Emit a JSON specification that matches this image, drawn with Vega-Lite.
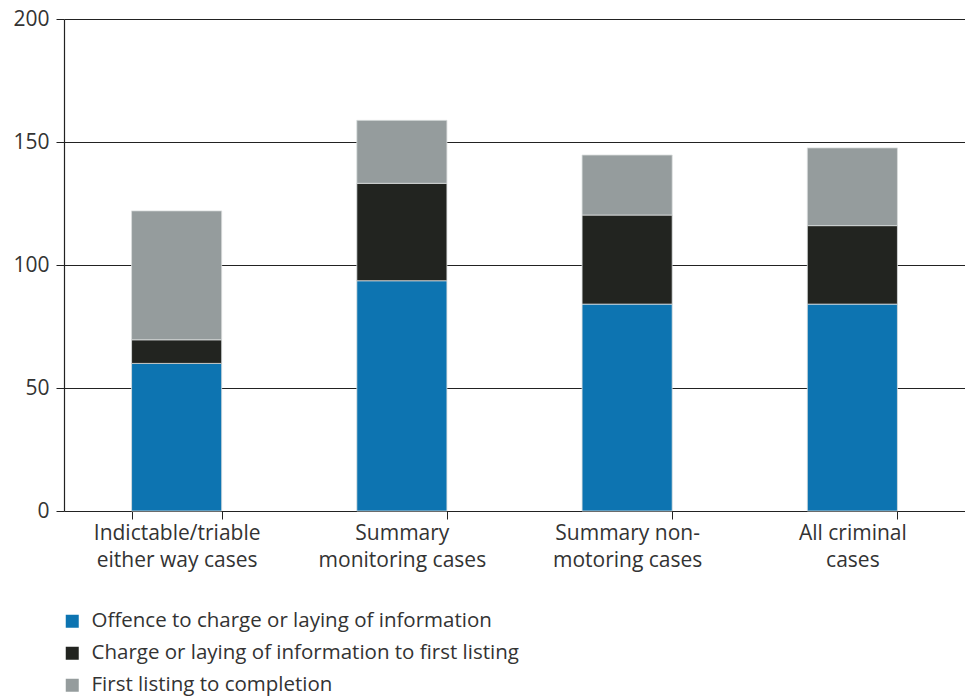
{
  "$schema": "https://vega.github.io/schema/vega-lite/v6.json",
  "width": 901,
  "height": 492,
  "autosize": {"type": "none"},
  "padding": {"left": 64, "top": 19, "right": 0, "bottom": 186},
  "background": "white",
  "config": {
    "font": "Open Sans",
    "view": {"stroke": null},
    "axis": {"labelFont": "Open Sans", "labelColor": "#333333", "labelFontSize": 21, "labelFontWeight": "normal"},
    "legend": {"labelFont": "Open Sans", "labelColor": "#333333"}
  },
  "data": {
    "values": [
      {"category": "Indictable/triable either way cases", "stage": "Offence to charge or laying of information", "seq": 1, "days": 60.0},
      {"category": "Indictable/triable either way cases", "stage": "Charge or laying of information to first listing", "seq": 2, "days": 9.6},
      {"category": "Indictable/triable either way cases", "stage": "First listing to completion", "seq": 3, "days": 52.4},
      {"category": "Summary monitoring cases", "stage": "Offence to charge or laying of information", "seq": 1, "days": 93.6},
      {"category": "Summary monitoring cases", "stage": "Charge or laying of information to first listing", "seq": 2, "days": 39.6},
      {"category": "Summary monitoring cases", "stage": "First listing to completion", "seq": 3, "days": 25.6},
      {"category": "Summary non-motoring cases", "stage": "Offence to charge or laying of information", "seq": 1, "days": 84.1},
      {"category": "Summary non-motoring cases", "stage": "Charge or laying of information to first listing", "seq": 2, "days": 36.2},
      {"category": "Summary non-motoring cases", "stage": "First listing to completion", "seq": 3, "days": 24.4},
      {"category": "All criminal cases", "stage": "Offence to charge or laying of information", "seq": 1, "days": 84.1},
      {"category": "All criminal cases", "stage": "Charge or laying of information to first listing", "seq": 2, "days": 31.9},
      {"category": "All criminal cases", "stage": "First listing to completion", "seq": 3, "days": 31.6}
    ]
  },
  "mark": {"type": "bar", "stroke": "#d9dddd", "strokeWidth": 0.8},
  "encoding": {
    "x": {
      "field": "category",
      "type": "nominal",
      "sort": null,
      "title": null,
      "scale": {"paddingInner": 0.6, "paddingOuter": 0.3},
      "axis": {
        "labelAngle": 0,
        "domain": false,
        "ticks": true,
        "tickBand": "extent",
        "tickSize": 8,
        "tickColor": "#222222",
        "labelPadding": 3,
        "labelFontSize": 21,
        "labelLineHeight": 27,
        "labelLimit": 0,
        "labelExpr": "datum.value == 'Indictable/triable either way cases' ? ['Indictable/triable', 'either way cases'] : datum.value == 'Summary monitoring cases' ? ['Summary', 'monitoring cases'] : datum.value == 'Summary non-motoring cases' ? ['Summary non-', 'motoring cases'] : datum.value == 'All criminal cases' ? ['All criminal', 'cases'] : ''"
      }
    },
    "y": {
      "field": "days",
      "type": "quantitative",
      "stack": "zero",
      "title": null,
      "scale": {"domain": [0, 200], "nice": false},
      "axis": {
        "values": [0, 50, 100, 150, 200],
        "grid": true,
        "gridColor": "#222222",
        "gridWidth": 1.2,
        "gridOpacity": 1,
        "domain": true,
        "domainColor": "#222222",
        "domainWidth": 1.2,
        "tickSize": 8,
        "tickColor": "#222222",
        "labelFontSize": 21,
        "labelPadding": 7
      }
    },
    "color": {
      "field": "stage",
      "type": "nominal",
      "scale": {
        "domain": ["Offence to charge or laying of information", "Charge or laying of information to first listing", "First listing to completion"],
        "range": ["#0d74b1", "#222420", "#959c9d"]
      },
      "legend": {
        "title": null,
        "orient": "none",
        "legendX": -2,
        "legendY": 592,
        "direction": "vertical",
        "symbolType": "square",
        "symbolSize": 169,
        "symbolStrokeWidth": 0,
        "labelFontSize": 20.5,
        "rowPadding": 11,
        "labelOffset": 9,
        "labelLimit": 0
      }
    },
    "order": {"field": "seq", "type": "quantitative"}
  }
}
